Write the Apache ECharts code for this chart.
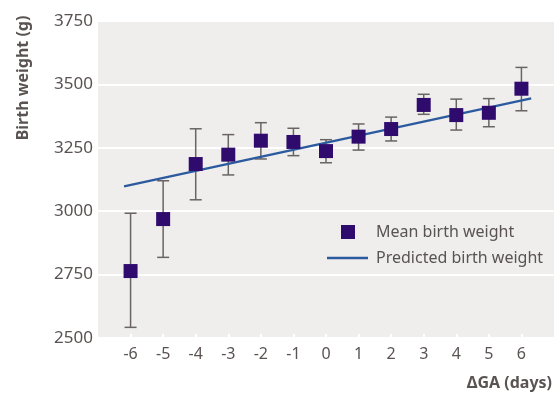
<!DOCTYPE html>
<html>
<head>
<meta charset="utf-8">
<script src="https://cdn.jsdelivr.net/npm/echarts@6/dist/echarts.min.js"></script>
<style>
html,body{margin:0;padding:0;background:#fff;}
#c{width:554px;height:395px;}
</style>
</head>
<body>
<div id="c"></div>
<script>
const days = [-6,-5,-4,-3,-2,-1,0,1,2,3,4,5,6];
const meanWeight = [2764,2969,3186,3223,3278,3273,3237,3294,3324,3419,3379,3388,3483];
const upperCI = [2992,3120,3325,3302,3349,3327,3282,3344,3371,3461,3442,3444,3567];
const lowerCI = [2542,2818,3045,3143,3206,3219,3191,3241,3277,3382,3320,3333,3396];
const predX = [-6.2, 6.3];
const predY = [3098, 3445];
const yTicks = [2500,2750,3000,3250,3500,3750];

const FONT = 'Noto Sans';
const TXT = '#595352';

const chart = echarts.init(document.getElementById('c'), null, {renderer:'canvas'});
chart.setOption({
  animation:false,
  backgroundColor:'#ffffff',
  grid:{left:98,right:0,top:21,bottom:57,show:true,backgroundColor:'#efeeec',borderWidth:0},
  xAxis:{
    type:'value',min:-7,max:7,interval:1,
    axisLine:{show:false},
    splitLine:{show:false},
    axisTick:{show:true,inside:true,length:4,lineStyle:{color:'#ffffff',width:2},customValues:days},
    axisLabel:{color:TXT,fontFamily:FONT,fontSize:16,margin:8,customValues:days}
  },
  yAxis:{
    type:'value',min:yTicks[0],max:yTicks[yTicks.length-1],interval:250,
    axisLine:{show:false},axisTick:{show:false},
    splitLine:{show:true,lineStyle:{color:'#ffffff',width:2}},
    axisLabel:{color:TXT,fontFamily:FONT,fontSize:17,margin:5,formatter:function(v){return String(v);}}
  },
  legend:[
    {data:['Mean birth weight'],left:341,top:224,padding:0,itemWidth:14,itemHeight:14,
     textStyle:{color:TXT,fontFamily:FONT,fontSize:16,padding:[0,0,0,16]}},
    {data:[{name:'Predicted birth weight',icon:'rect'}],left:327,top:250,padding:0,itemWidth:41,itemHeight:2.5,
     textStyle:{color:TXT,fontFamily:FONT,fontSize:16,padding:[0,0,0,3]}}
  ],
  graphic:[
    {type:'text',x:23,y:78,rotation:Math.PI/2,style:{text:'Birth weight (g)',fill:TXT,font:'bold 16px "Noto Sans"',align:'center',verticalAlign:'middle'}},
    {type:'text',x:552,y:383,style:{text:'ΔGA (days)',fill:TXT,font:'bold 16px "Noto Sans"',align:'right',verticalAlign:'middle'}}
  ],
  series:[
    {
      type:'custom',name:'ci',z:2,
      data:days.map((d,i)=>[d,lowerCI[i],upperCI[i]]),
      renderItem:function(params,api){
        const x=api.value(0);
        const lo=api.coord([x,api.value(1)]);
        const hi=api.coord([x,api.value(2)]);
        const hw=6;
        const st={stroke:'#6a6462',lineWidth:1.5};
        return {type:'group',children:[
          {type:'line',shape:{x1:lo[0],y1:lo[1],x2:hi[0],y2:hi[1]},style:st},
          {type:'line',shape:{x1:lo[0]-hw,y1:lo[1],x2:lo[0]+hw,y2:lo[1]},style:st},
          {type:'line',shape:{x1:hi[0]-hw,y1:hi[1],x2:hi[0]+hw,y2:hi[1]},style:st}
        ]};
      }
    },
    {
      type:'line',name:'Predicted birth weight',z:3,
      data:predX.map((x,i)=>[x,predY[i]]),
      symbol:'none',
      lineStyle:{color:'#2c5a9e',width:2.5},
      itemStyle:{color:'#2c5a9e'}
    },
    {
      type:'scatter',name:'Mean birth weight',z:4,
      data:days.map((d,i)=>[d,meanWeight[i]]),
      symbol:'rect',symbolSize:14,
      itemStyle:{color:'#300b6e',opacity:1}
    }
  ]
});
</script>
</body>
</html>
